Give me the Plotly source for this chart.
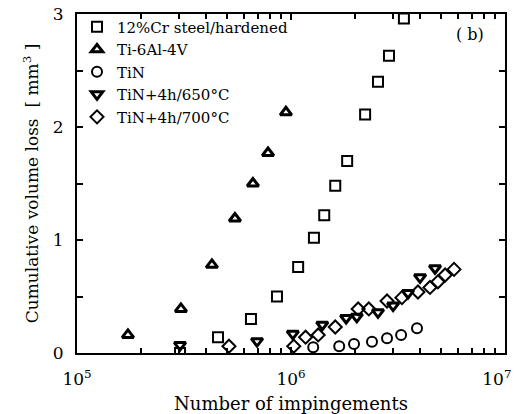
import plotly.graph_objects as go

# 12%Cr steel/hardened
cr_x = [3.03e5, 4.56e5, 6.5e5, 8.6e5, 1.08e6, 1.28e6, 1.43e6, 1.61e6, 1.83e6, 2.22e6, 2.55e6, 2.87e6, 3.37e6]
cr_y = [0.0, 0.14, 0.30, 0.50, 0.76, 1.02, 1.22, 1.48, 1.70, 2.11, 2.40, 2.63, 2.96]

# Ti-6Al-4V
ti_x = [1.73e5, 3.06e5, 4.27e5, 5.47e5, 6.64e5, 7.81e5, 9.47e5]
ti_y = [0.16, 0.39, 0.78, 1.19, 1.50, 1.77, 2.13]

# TiN
tin_x = [1.27e6, 1.68e6, 1.97e6, 2.39e6, 2.81e6, 3.27e6, 3.88e6]
tin_y = [0.05, 0.06, 0.08, 0.10, 0.13, 0.16, 0.22]

# TiN+4h/650°C
t650_x = [3.03e5, 6.94e5, 1.02e6, 1.40e6, 1.81e6, 2.03e6, 2.55e6, 3.00e6, 3.52e6, 4.01e6, 4.71e6]
t650_y = [0.07, 0.105, 0.17, 0.25, 0.31, 0.32, 0.36, 0.42, 0.53, 0.67, 0.75]

# TiN+4h/700°C
t700_x = [5.13e5, 1.03e6, 1.17e6, 1.34e6, 1.61e6, 2.06e6, 2.31e6, 2.81e6, 3.30e6, 3.92e6, 4.46e6, 4.86e6, 5.25e6, 5.78e6]
t700_y = [0.06, 0.06, 0.14, 0.16, 0.23, 0.39, 0.39, 0.46, 0.49, 0.54, 0.58, 0.63, 0.69, 0.74]

x_tickvals = [1e5, 1e6, 1e7]
x_ticktext = ["10<sup>5</sup>", "10<sup>6</sup>", "10<sup>7</sup>\u00a0\u00a0\u00a0"]
y_tickvals = [0, 1, 2, 3]

FONT = "DejaVu Serif"

series = [
    ("12%Cr steel/hardened", cr_x, cr_y, "square-open", 10, 2),
    ("Ti-6Al-4V", ti_x, ti_y, "triangle-up-open", 10, 3),
    ("TiN", tin_x, tin_y, "circle-open", 10, 2),
    ("TiN+4h/650°C", t650_x, t650_y, "triangle-down-open", 10, 3),
    ("TiN+4h/700°C", t700_x, t700_y, "diamond-open", 10, 2),
]

fig = go.Figure()
for name, xs, ys, sym, size, lw in series:
    fig.add_trace(go.Scatter(
        x=xs, y=ys, mode="markers", name=name,
        marker=dict(symbol=sym, size=size, color="black", line=dict(color="black", width=lw)),
    ))

fig.update_layout(
    width=516, height=414,
    margin=dict(l=77, r=11, t=11, b=61),
    paper_bgcolor="white", plot_bgcolor="white",
    font=dict(family=FONT, size=15, color="black"),
    showlegend=True,
    legend=dict(x=0.0, y=1.01, xanchor="left", yanchor="top",
                bgcolor="rgba(0,0,0,0)", borderwidth=0,
                font=dict(family=FONT, size=15, color="black"),
                itemwidth=30, tracegroupgap=0),
    xaxis=dict(
        type="log", range=[5, 7], automargin=False,
        tickvals=x_tickvals, ticktext=x_ticktext, ticklabeloverflow="allow",
        ticks="inside", ticklen=6, tickwidth=1.5, tickcolor="black",
        showline=True, linecolor="black", linewidth=2, mirror="ticks",
        showgrid=False, zeroline=False, ticklabelstandoff=10,
        tickfont=dict(family=FONT, size=17),
        minor=dict(ticks="inside", ticklen=5, tickwidth=1.5, tickcolor="black",
                   tickvals=[2e5, 3e5, 4e5, 5e5, 6e5, 7e5, 8e5, 9e5,
                             2e6, 3e6, 4e6, 5e6, 6e6, 7e6, 8e6, 9e6], showgrid=False),
        title=dict(text="Number of impingements", font=dict(family=FONT, size=18), standoff=10),
    ),
    yaxis=dict(
        range=[0, 3], automargin=False,
        tickvals=y_tickvals, ticklabeloverflow="allow",
        ticks="inside", ticklen=6, tickwidth=1.5, tickcolor="black",
        showline=True, linecolor="black", linewidth=2, mirror="ticks",
        showgrid=False, zeroline=False, ticklabelstandoff=8,
        tickfont=dict(family=FONT, size=17),
        minor=dict(ticks="inside", ticklen=6, tickwidth=1.5, tickcolor="black",
                   dtick=0.5, showgrid=False),
        title=dict(text="Cumulative volume loss  [ mm<sup>3</sup> ]", font=dict(family=FONT, size=17), standoff=10),
    ),
    annotations=[dict(text="( b)", x=0.918, y=0.94, xref="paper", yref="paper",
                      xanchor="center", yanchor="middle",
                      showarrow=False, font=dict(family=FONT, size=16, color="black"))],
)

fig.write_html("out.html")
